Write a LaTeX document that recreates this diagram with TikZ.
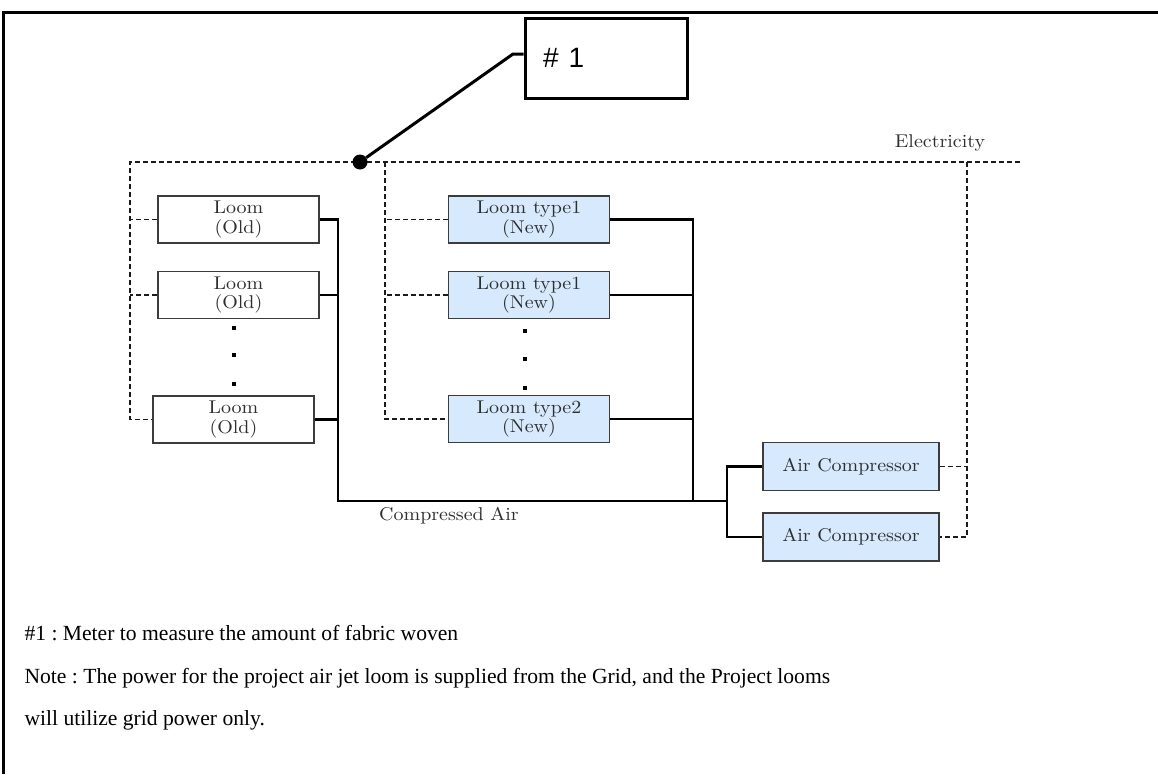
\documentclass[tikz,border=0pt]{standalone}
\usepackage{fontspec}
\newfontfamily\notefont{Liberation Serif}
\newfontfamily\tagfont{Liberation Sans}
\newfontfamily\diagfont{lmroman10-regular.otf}[FakeStretch=1.08]
\usetikzlibrary{positioning,calc}
\definecolor{ink}      {HTML}{1A1A1A}
\definecolor{labelgray}{HTML}{2E2E2E}
\definecolor{newfill}  {HTML}{D7E9FC}
\tikzset{
  every node/.style={font=\diagfont\fontsize{18.5}{19.5}\selectfont, text=labelgray},
  % --- nodes
  loom/.style    = {draw=ink!85, line width=1.6pt, fill=white, align=center,
                    minimum width=161pt, minimum height=47pt, inner sep=0pt},
  newloom/.style = {loom, fill=newfill},
  compr/.style   = {newloom, minimum width=176pt, minimum height=48pt},
  meterbox/.style= {draw=black, line width=3pt, minimum height=80pt, text width=126pt,
                    inner xsep=18pt, align=left, text=black,
                    font=\tagfont\fontsize{28}{30}\selectfont},
  meterdot/.style= {circle, fill=black, inner sep=0pt, minimum size=15pt},
  lbl/.style     = {font=\diagfont\fontsize{18.5}{19.5}\selectfont, text=labelgray},
  note/.style    = {anchor=base west, text=black,
                    font=\notefont\fontsize{21.6}{24}\selectfont\frenchspacing},
  % --- edges
  air/.style     = {draw=black, line width=2.8pt},
  elec/.style    = {draw=ink, line width=1.1pt, dash pattern=on 5pt off 3pt},
  leader/.style  = {draw=black, line width=3pt},
  frame/.style   = {draw=black, line width=3pt},
}

\begin{document}
\begin{tikzpicture}[x=1pt,y=-1pt]
  \useasboundingbox (0,0) rectangle (1158,774);
  \draw[frame] (3.5,774) -- (3.5,12) -- (1158,12);

  % looms (old)
  \node[loom] (old1) at (238.5,219.5) {Loom\\(Old)};
  \node[loom] (old2) at (238.5,295)   {Loom\\(Old)};
  \node[loom] (old3) at (233.5,419.5) {Loom\\(Old)};
  % looms (new)
  \node[newloom] (new1) at (529,219.5) {Loom type1\\(New)};
  \node[newloom] (new2) at (529,295)   {Loom type1\\(New)};
  \node[newloom] (new3) at (529,419)   {Loom type2\\(New)};
  % compressors
  \node[compr] (comp1) at (851,466.5) {Air Compressor};
  \node[compr] (comp2) at (851,537)   {Air Compressor};

  % continuation marks
  \foreach \x/\y in {234/328, 234/355, 234/384, 525/331, 525/359, 525/388}
    \fill[black] (\x-2,\y-2) rectangle ++(4,4);

  % compressed air
  \coordinate (ojoin) at (338,501);
  \coordinate (njoin) at (693,501);
  \coordinate (cjoin) at (727,501);
  \draw[air] (old1.east) -| (ojoin) -- (cjoin);
  \draw[air] (old2.east) -- (old2.east -| ojoin);
  \draw[air] (old3.east) -- (old3.east -| ojoin);
  \draw[air] (new1.east) -| (njoin);
  \draw[air] (new2.east) -- (new2.east -| njoin);
  \draw[air] (new3.east) -- (new3.east -| njoin);
  \draw[air] (comp1.west) -| (cjoin) |- (comp2.west);
  \node[lbl] (airlbl) at (449,516) {Compressed Air};

  % electricity
  \coordinate (eleft)  at (130,162);
  \coordinate (einner) at (385,162);
  \coordinate (ecomp)  at (967,162);
  \coordinate (eright) at (1020,162);
  \draw[elec] (eright) -- (eleft) |- (old3.west);
  \draw[elec] (old1.west) -- (old1.west -| eleft);
  \draw[elec] (old2.west) -- (old2.west -| eleft);
  \draw[elec] (einner) |- (new3.west);
  \draw[elec] (new1.west) -- (new1.west -| einner);
  \draw[elec] (new2.west) -- (new2.west -| einner);
  \draw[elec] (ecomp) |- (comp2.east);
  \draw[elec] (comp1.east) -- (comp1.east -| ecomp);
  \node[lbl] (eleclbl) at (940,143) {Electricity};

  % meter #1
  \node[meterdot] (meter) at (360,162) {};
  \node[meterbox] (meterbox) at (606,58) {\#\hspace{10pt}1};
  \coordinate (bend) at (513,54);
  \draw[leader] (meter) -- (bend) -- (bend -| meterbox.west);

  % notes
  \node[note] (note1) at (21,640) {\#1 : Meter to measure the amount of fabric woven};
  \node[note] (note2) at (21,683) {Note : The power for the project air jet loom is supplied from the Grid, and the Project looms};
  \node[note] (note3) at (21,725) {will utilize grid power only.};
\end{tikzpicture}
\end{document}
